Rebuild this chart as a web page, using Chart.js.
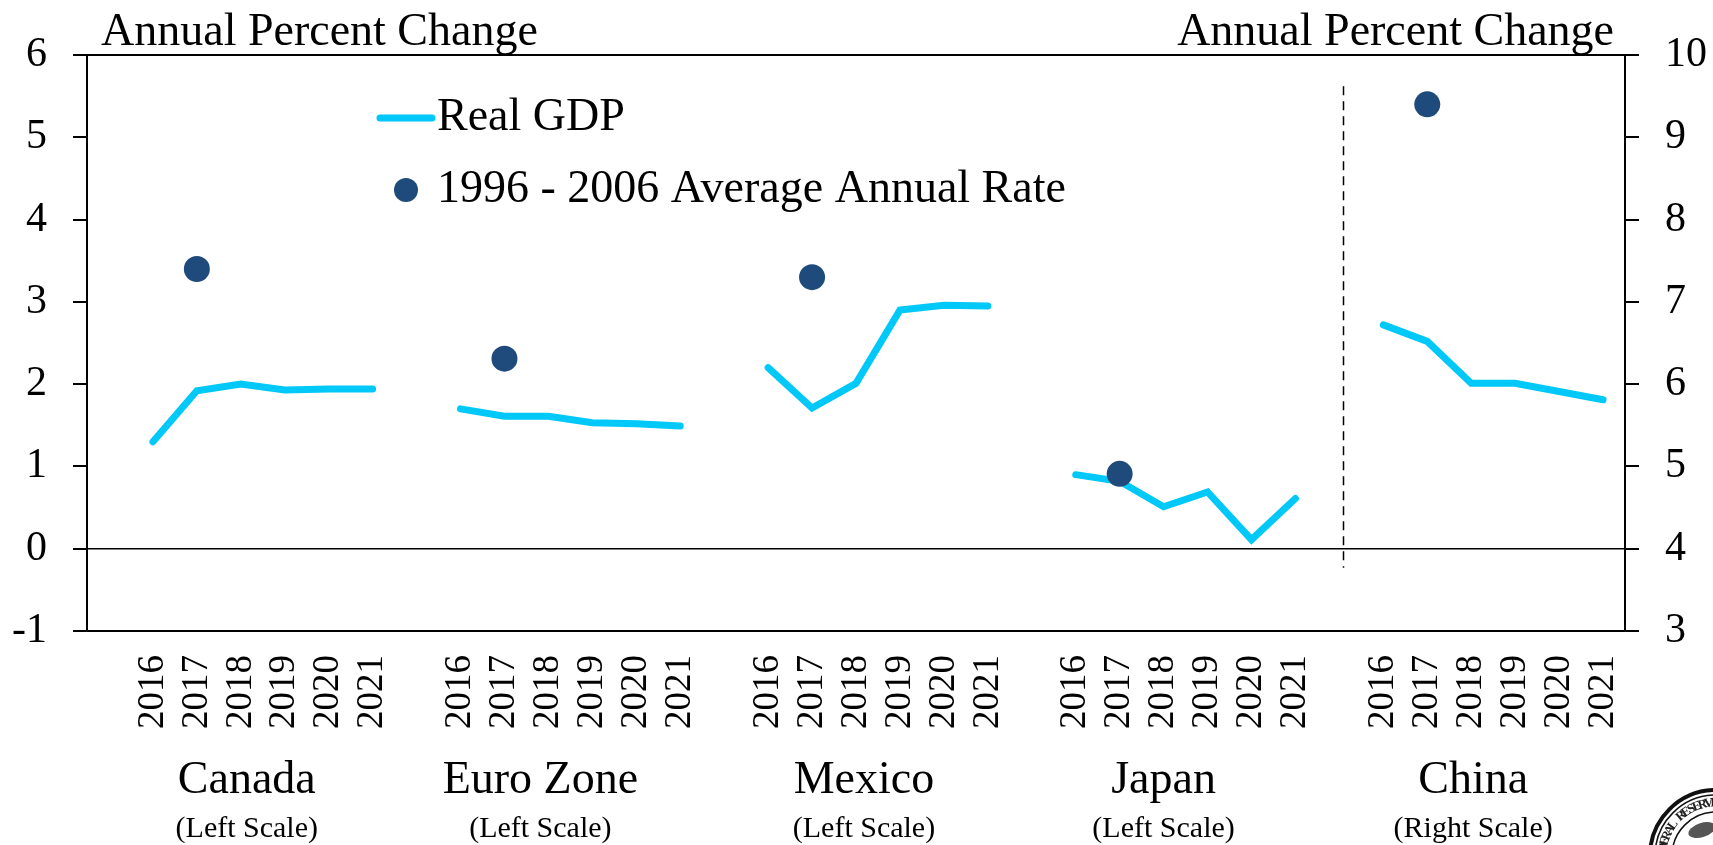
<!DOCTYPE html>
<html>
<head>
<meta charset="utf-8">
<script src="https://cdn.jsdelivr.net/npm/chart.js@4.4.1/dist/chart.umd.min.js"></script>
<style>
  html, body { margin: 0; padding: 0; background: #fff; }
  #wrap { width: 1713px; height: 845px; }
</style>
</head>
<body>
<div id="wrap"><canvas id="gdpChart" width="1713" height="845"></canvas></div>
<script>
const years = ['2016', '2017', '2018', '2019', '2020', '2021'];
const countries = ['Canada', 'Euro Zone', 'Mexico', 'Japan', 'China'];
const scaleNotes = ['(Left Scale)', '(Left Scale)', '(Left Scale)', '(Left Scale)', '(Right Scale)'];

// Real GDP, annual percent change
const canadaGdp = [1.3, 1.92, 2.0, 1.93, 1.94, 1.94];
const euroGdp = [1.7, 1.61, 1.61, 1.53, 1.52, 1.49];
const mexicoGdp = [2.2, 1.71, 2.01, 2.9, 2.96, 2.95];
const japanGdp = [0.9, 0.82, 0.51, 0.69, 0.11, 0.61];
const chinaGdp = [6.72, 6.52, 6.01, 6.01, 5.91, 5.81]; // right scale

// 1996 - 2006 average annual rate (shown at 2017)
const avgRate = [3.4, 2.31, 3.3, 0.91, 9.4];
const avgYear = '2017';

const leftTicks = [-1, 0, 1, 2, 3, 4, 5, 6];
const rightTicks = [3, 4, 5, 6, 7, 8, 9, 10];

const FONT = "'Liberation Serif', 'Times New Roman', serif";
const CYAN = '#00C8F8';
const NAVY = '#1F4B7C';
// the country captions sit a little left of their year groups
const captionShift = [-16, -30, -14, -22, -20];

// build the category axis: blank slot, 6 years, blank slot, ...
const labels = [''];
const groupStart = [];
countries.forEach((c, i) => {
  groupStart.push(labels.length);
  labels.push(...years);
  if (i < countries.length - 1) labels.push('');
});

const gdpSeries = [canadaGdp, euroGdp, mexicoGdp, japanGdp, chinaGdp];
const gdpLeft = labels.map(() => null);
const gdpRight = labels.map(() => null);
const avgLeft = labels.map(() => null);
const avgRight = labels.map(() => null);
gdpSeries.forEach((vals, i) => {
  const target = i === 4 ? gdpRight : gdpLeft;
  vals.forEach((v, j) => { target[groupStart[i] + j] = v; });
  const avgTarget = i === 4 ? avgRight : avgLeft;
  avgTarget[groupStart[i] + years.indexOf(avgYear)] = avgRate[i];
});

function drawSeal(ctx, cx, cy) {
  ctx.save();
  ctx.strokeStyle = '#111';
  ctx.lineWidth = 4;
  ctx.beginPath(); ctx.arc(cx, cy, 66, 0, Math.PI * 2); ctx.stroke();
  ctx.lineWidth = 1.5;
  ctx.beginPath(); ctx.arc(cx, cy, 61, 0, Math.PI * 2); ctx.stroke();
  ctx.beginPath(); ctx.arc(cx, cy, 44, 0, Math.PI * 2); ctx.stroke();
  // lettering round the ring
  const text = 'FEDERAL RESERVE';
  ctx.fillStyle = '#222';
  ctx.font = `bold 13px ${FONT}`;
  ctx.textAlign = 'center';
  ctx.textBaseline = 'middle';
  const start = -Math.PI * 1.02;
  const step = 0.115;
  for (let k = 0; k < text.length; k++) {
    const ang = start + k * step;
    ctx.save();
    ctx.translate(cx + Math.cos(ang) * 53, cy + Math.sin(ang) * 53);
    ctx.rotate(ang + Math.PI / 2);
    ctx.fillText(text[k], 0, 0);
    ctx.restore();
  }
  // rough eagle shape
  ctx.fillStyle = '#555';
  ctx.beginPath();
  ctx.ellipse(cx - 14, cy - 26, 14, 7, -0.3, 0, Math.PI * 2);
  ctx.fill();
  ctx.restore();
}

const decorPlugin = {
  id: 'decor',
  beforeDatasetsDraw(chart) {
    const { ctx, chartArea: a, scales } = chart;
    const y = scales.y, x = scales.x;
    ctx.save();
    ctx.strokeStyle = '#000';
    ctx.lineWidth = 2;
    // top, bottom and zero lines
    ctx.beginPath();
    ctx.moveTo(a.left - 14, a.top); ctx.lineTo(a.right + 14, a.top);
    ctx.moveTo(a.left - 14, a.bottom); ctx.lineTo(a.right + 14, a.bottom);
    ctx.stroke();
    ctx.lineWidth = 1.5;
    ctx.beginPath();
    ctx.moveTo(a.left, y.getPixelForValue(0)); ctx.lineTo(a.right, y.getPixelForValue(0));
    ctx.stroke();
    // dashed separator before China
    const sx = Math.round(x.getPixelForValue(groupStart[4] - 1)) + 4.5;
    ctx.setLineDash([9, 6]);
    ctx.lineWidth = 1.5;
    ctx.beginPath();
    ctx.moveTo(sx, y.getPixelForValue(5.62));
    ctx.lineTo(sx, y.getPixelForValue(-0.23));
    ctx.stroke();
    ctx.restore();
  },
  afterDraw(chart) {
    const { ctx, chartArea: a, scales } = chart;
    const x = scales.x;
    ctx.save();
    ctx.fillStyle = '#000';
    ctx.textBaseline = 'alphabetic';
    ctx.font = `46px ${FONT}`;
    ctx.textAlign = 'left';
    ctx.fillText('Annual Percent Change', 101, 45);
    ctx.textAlign = 'right';
    ctx.fillText('Annual Percent Change', 1614, 45);

    // country names under the years
    ctx.textAlign = 'center';
    ctx.textBaseline = 'middle';
    countries.forEach((c, i) => {
      const cx = (x.getPixelForValue(groupStart[i]) + x.getPixelForValue(groupStart[i] + 5)) / 2 + captionShift[i];
      ctx.font = `46px ${FONT}`;
      ctx.fillText(c, cx, a.bottom + 150);
      ctx.font = `30px ${FONT}`;
      ctx.fillText(scaleNotes[i], cx, a.bottom + 198);
    });

    // legend
    ctx.textAlign = 'left';
    ctx.font = `46px ${FONT}`;
    ctx.strokeStyle = CYAN;
    ctx.lineWidth = 7;
    ctx.lineCap = 'round';
    ctx.beginPath();
    ctx.moveTo(380, 118); ctx.lineTo(432, 118);
    ctx.stroke();
    ctx.fillText('Real GDP', 437, 118);
    ctx.fillStyle = NAVY;
    ctx.beginPath();
    ctx.arc(406, 190, 12, 0, Math.PI * 2);
    ctx.fill();
    ctx.fillStyle = '#000';
    ctx.fillText('1996 - 2006 Average Annual Rate', 437, 190);
    ctx.restore();

    // partial seal in the corner
    drawSeal(ctx, 1716, 856);
  }
};

new Chart(document.getElementById('gdpChart'), {
  type: 'line',
  data: {
    labels: labels,
    datasets: [
      {
        label: '1996 - 2006 Average Annual Rate',
        data: avgLeft,
        yAxisID: 'y',
        showLine: false,
        pointRadius: 13,
        pointBackgroundColor: NAVY,
        pointBorderWidth: 0,
        order: 0,
      },
      {
        label: '1996 - 2006 Average Annual Rate (China)',
        data: avgRight,
        yAxisID: 'y2',
        showLine: false,
        pointRadius: 13,
        pointBackgroundColor: NAVY,
        pointBorderWidth: 0,
        order: 0,
      },
      {
        label: 'Real GDP',
        data: gdpLeft,
        yAxisID: 'y',
        borderColor: CYAN,
        borderWidth: 7,
        borderCapStyle: 'round',
        pointRadius: 0,
        spanGaps: false,
        tension: 0,
        order: 1,
      },
      {
        label: 'Real GDP (China)',
        data: gdpRight,
        yAxisID: 'y2',
        borderColor: CYAN,
        borderWidth: 7,
        borderCapStyle: 'round',
        pointRadius: 0,
        spanGaps: false,
        tension: 0,
        order: 1,
      },
    ],
  },
  options: {
    responsive: false,
    animation: false,
    layout: { padding: { top: 55, left: 0, right: 0, bottom: 0 } },
    plugins: {
      legend: { display: false },
      tooltip: { enabled: false },
    },
    scales: {
      x: {
        type: 'category',
        offset: true,
        grid: { display: false, drawTicks: false },
        border: { display: false },
        ticks: {
          autoSkip: false,
          maxRotation: 90,
          minRotation: 90,
          padding: 24,
          color: '#000',
          font: { family: FONT, size: 37 },
        },
        afterFit(s) { s.height = 214; },
      },
      y: {
        position: 'left',
        min: leftTicks[0],
        max: leftTicks[leftTicks.length - 1],
        afterBuildTicks(s) { s.ticks = leftTicks.map(v => ({ value: v })); },
        ticks: { color: '#000', padding: 26, font: { family: FONT, size: 42 } },
        grid: { drawOnChartArea: false, tickLength: 14, color: '#000', lineWidth: 2 },
        border: { color: '#000', width: 2 },
        afterFit(s) { s.width = 87; },
      },
      y2: {
        position: 'right',
        min: rightTicks[0],
        max: rightTicks[rightTicks.length - 1],
        afterBuildTicks(s) { s.ticks = rightTicks.map(v => ({ value: v })); },
        ticks: { color: '#000', padding: 26, font: { family: FONT, size: 42 } },
        grid: { drawOnChartArea: false, tickLength: 14, color: '#000', lineWidth: 2 },
        border: { color: '#000', width: 2 },
        afterFit(s) { s.width = 88; },
      },
    },
  },
  plugins: [decorPlugin],
});
</script>
</body>
</html>
